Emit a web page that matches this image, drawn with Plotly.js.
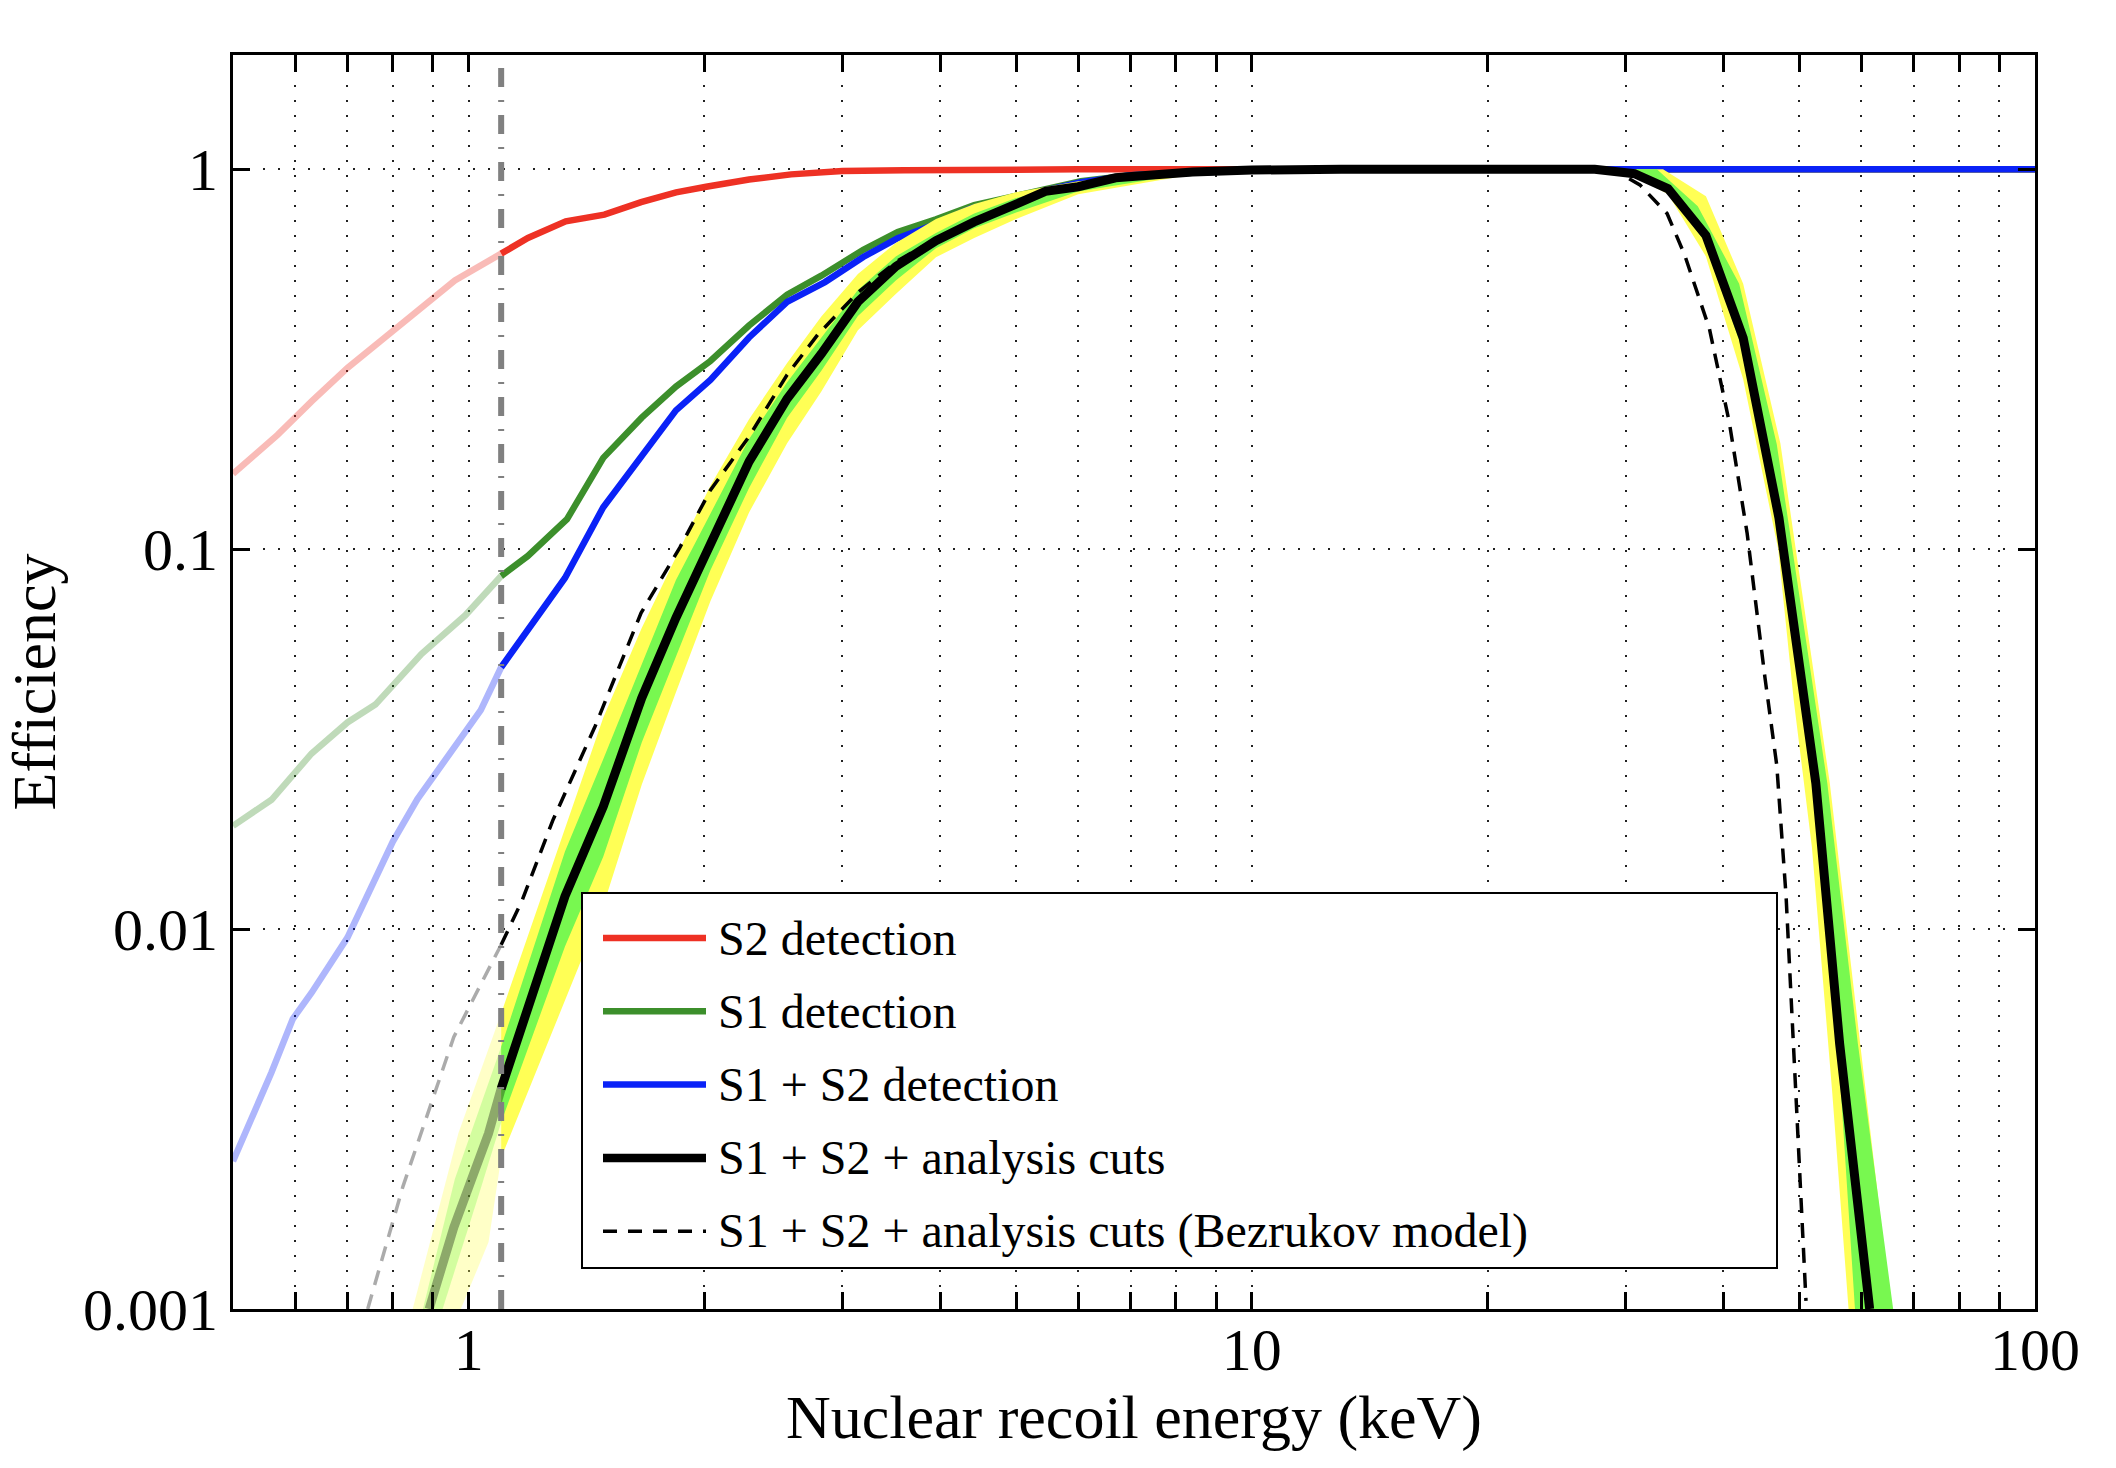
<!DOCTYPE html>
<html>
<head>
<meta charset="utf-8">
<script src="https://cdn.plot.ly/plotly-3.0.1.min.js"></script>
<style>
  html, body { margin: 0; padding: 0; background: #fff; }
  #myDiv { width: 2116px; height: 1468px; }
</style>
</head>
<body>
<div id="myDiv"></div>
<script>
//  ======== DATA ========
// energy threshold (keV), below it every curve is drawn faded
const CUT = 1.1;

const s2E   = [0.5, 0.57, 0.63, 0.70, 0.78, 0.87, 0.96, 1.1, 1.19, 1.33, 1.49, 1.66, 1.84, 2.01, 2.28, 2.58, 3.0, 3.6, 4.5, 6, 10, 30, 100];
const s2Eff = [0.158, 0.20, 0.245, 0.30, 0.36, 0.43, 0.51, 0.60, 0.66, 0.73, 0.76, 0.82, 0.87, 0.90, 0.94, 0.97, 0.99, 0.995, 0.999, 1, 1, 1, 1];

const s1E   = [0.5, 0.56, 0.63, 0.70, 0.76, 0.87, 0.99, 1.1, 1.19, 1.335, 1.485, 1.663, 1.839, 2.035, 2.28, 2.55, 2.82, 3.19, 3.53, 3.95, 4.42, 5.01, 6.05, 7, 8.4, 10, 13, 100];
const s1Eff = [0.0187, 0.0219, 0.029, 0.035, 0.039, 0.053, 0.067, 0.085, 0.096, 0.120, 0.174, 0.222, 0.268, 0.313, 0.388, 0.468, 0.525, 0.614, 0.684, 0.739, 0.805, 0.853, 0.93, 0.965, 0.985, 0.995, 1, 1];

const s12E   = [0.5, 0.56, 0.596, 0.63, 0.70, 0.80, 0.86, 0.97, 1.036, 1.1, 1.186, 1.327, 1.485, 1.663, 1.839, 2.035, 2.28, 2.55, 2.85, 3.19, 3.53, 3.95, 4.38, 5.01, 6.05, 7, 8.4, 10, 13, 100];
const s12Eff = [0.00245, 0.0042, 0.0058, 0.0068, 0.0095, 0.017, 0.022, 0.031, 0.0377, 0.0489, 0.0605, 0.084, 0.129, 0.177, 0.232, 0.279, 0.361, 0.448, 0.505, 0.588, 0.659, 0.718, 0.79, 0.845, 0.925, 0.965, 0.985, 0.995, 1, 1];

const cutsE   = [0.89, 0.957, 1.06, 1.1, 1.327, 1.485, 1.663, 1.839, 2.035, 2.28, 2.55, 2.82, 3.14, 3.51, 3.95, 4.42, 5.0, 5.45, 6.0, 6.7, 8.4, 10, 13, 27.4, 30.8, 34.0, 38.0, 42.4, 47.1, 52.5, 56.3, 61.5];
const cutsEff = [0.001, 0.00164, 0.0029, 0.0038, 0.0122, 0.021, 0.0406, 0.066, 0.104, 0.170, 0.249, 0.327, 0.448, 0.555, 0.649, 0.727, 0.81, 0.875, 0.90, 0.95, 0.984, 0.996, 1, 1, 0.974, 0.889, 0.67, 0.36, 0.121, 0.0242, 0.005, 0.001];

const bezE   = [0.743, 0.824, 0.957, 1.1, 1.17, 1.28, 1.45, 1.66, 1.86, 2.035, 2.28, 2.55, 2.79, 3.14, 3.53, 3.95, 4.42, 5.0, 5.45, 6.0, 6.7, 8.4, 10, 13, 27.5, 29.5, 31.3, 33.9, 35.7, 38.4, 40.7, 42.9, 45.2, 46.8, 48.1, 49.5, 51.0];
const bezEff = [0.001, 0.0021, 0.0052, 0.0091, 0.0119, 0.0193, 0.0342, 0.068, 0.101, 0.143, 0.198, 0.288, 0.367, 0.474, 0.575, 0.655, 0.73, 0.81, 0.875, 0.90, 0.95, 0.984, 0.996, 1, 1, 0.975, 0.91, 0.765, 0.595, 0.38, 0.216, 0.11, 0.046, 0.027, 0.0122, 0.0037, 0.00105];

// 2 sigma (yellow) and 1 sigma (green) bands around the analysis-cuts curve
const yelUpE    = [0.848, 0.97, 1.1, 1.327, 1.485, 1.663, 1.839, 2.035, 2.28, 2.55, 2.82, 3.14, 3.51, 3.95, 4.42, 5.0, 6.0, 8.4, 10, 13, 33.5, 38.0, 42.4, 47.3, 54.7, 65.5];
const yelUpEff  = [0.001, 0.0029, 0.006, 0.0185, 0.036, 0.062, 0.095, 0.147, 0.22, 0.309, 0.41, 0.53, 0.64, 0.74, 0.81, 0.87, 0.93, 0.995, 1, 1, 1, 0.85, 0.50, 0.19, 0.0242, 0.001];
const yelLoE    = [0.977, 1.06, 1.1, 1.327, 1.485, 1.663, 1.839, 2.035, 2.28, 2.55, 2.82, 3.14, 3.51, 3.95, 4.42, 5.0, 6.0, 8.4, 10, 13, 27.4, 30.8, 34.0, 38.0, 42.4, 47.0, 49.2, 51.9, 55.1, 57.8];
const yelLoEff  = [0.001, 0.0015, 0.0025, 0.0065, 0.0115, 0.024, 0.042, 0.073, 0.125, 0.19, 0.26, 0.377, 0.47, 0.587, 0.66, 0.74, 0.86, 0.97, 0.99, 1, 1, 0.96, 0.86, 0.59, 0.28, 0.10, 0.040, 0.0164, 0.0037, 0.001];
const grnUpE    = [0.874, 0.96, 1.1, 1.327, 1.485, 1.663, 1.839, 2.035, 2.28, 2.55, 2.82, 3.14, 3.51, 3.95, 4.42, 5.0, 6.0, 8.4, 10, 13, 32.9, 37.1, 41.9, 46.8, 54.3, 59.4, 65.9];
const grnUpEff  = [0.001, 0.0022, 0.0049, 0.016, 0.028, 0.050, 0.083, 0.124, 0.195, 0.275, 0.36, 0.481, 0.59, 0.68, 0.765, 0.84, 0.915, 0.99, 0.998, 1, 1, 0.80, 0.5, 0.189, 0.0242, 0.005, 0.001];
const grnLoE    = [0.926, 1.03, 1.1, 1.327, 1.485, 1.663, 1.839, 2.035, 2.28, 2.55, 2.82, 3.14, 3.51, 3.95, 4.42, 5.0, 6.0, 8.4, 10, 13, 27.4, 30.8, 34.0, 38.0, 42.4, 47.1, 52.5, 56.3, 58.9];
const grnLoEff  = [0.001, 0.0020, 0.0031, 0.0090, 0.0155, 0.031, 0.052, 0.088, 0.145, 0.222, 0.295, 0.411, 0.51, 0.62, 0.70, 0.77, 0.875, 0.978, 0.994, 1, 1, 0.965, 0.87, 0.64, 0.33, 0.112, 0.021, 0.0042, 0.001];

const legendLabels = ['S2 detection', 'S1 detection', 'S1 + S2 detection', 'S1 + S2 + analysis cuts', 'S1 + S2 + analysis cuts (Bezrukov model)'];

const xTickVals = [0.6, 0.7, 0.8, 0.9, 1, 2, 3, 4, 5, 6, 7, 8, 9, 10, 20, 30, 40, 50, 60, 70, 80, 90, 100];
const yTickVals = [0.001, 0.01, 0.1, 1];
const yTickText = ['0.001', '0.01', '0.1', '1'];

//  ======== STYLE ========
const RED = '#ee3124', GREEN = '#3c8f2b', BLUE = '#0a22f7', YELLOW = '#ffff55', LIME = '#78f850';
const FADE = 0.33;
const FONT = '"Liberation Serif", "Times New Roman", serif';

// keep the points on one side of the threshold (the threshold point goes in both)
function side(xs, ys, faded) {
  var xo = [], yo = [];
  xs.forEach(function(x, i) {
    if (faded ? x <= CUT : x >= CUT) { xo.push(x); yo.push(ys[i]); }
  });
  return [xo, yo];
}

function lineTraces(xs, ys, line) {
  var out = [];
  [true, false].forEach(function(faded) {
    var p = side(xs, ys, faded);
    out.push({ x: p[0], y: p[1], mode: 'lines', type: 'scatter', line: line,
               opacity: faded ? FADE : 1, showlegend: false, hoverinfo: 'skip' });
  });
  return out;
}

function bandTraces(upE, upV, loE, loV, color) {
  var out = [];
  [true, false].forEach(function(faded) {
    var u = side(upE, upV, faded), l = side(loE, loV, faded);
    out.push({ x: u[0].concat(l[0].slice().reverse()), y: u[1].concat(l[1].slice().reverse()),
               mode: 'lines', type: 'scatter', fill: 'toself', fillcolor: color,
               line: { width: 0, color: color }, opacity: faded ? FADE : 1,
               showlegend: false, hoverinfo: 'skip' });
  });
  return out;
}

var data = [].concat(
  lineTraces(s2E, s2Eff, { color: RED, width: 6.5 }),
  lineTraces(s1E, s1Eff, { color: GREEN, width: 6.5 }),
  lineTraces(s12E, s12Eff, { color: BLUE, width: 6.5 }),
  bandTraces(yelUpE, yelUpEff, yelLoE, yelLoEff, YELLOW),
  bandTraces(grnUpE, grnUpEff, grnLoE, grnLoEff, LIME),
  lineTraces(bezE, bezEff, { color: '#000', width: 3.5, dash: '15px,10px' }),
  lineTraces(cutsE, cutsEff, { color: '#000', width: 9 })
);

//  ======== LAYOUT ========
const W = 2116, H = 1468;
const M = { l: 233, r: 81, t: 55, b: 159 };
const PW = W - M.l - M.r, PH = H - M.t - M.b;
const px = v => (v - M.l) / PW;
const py = v => (H - M.b - v) / PH;

// hand-made legend so the sample lines can be as long as in the figure
const legendStyles = [
  { color: RED, width: 6.5 },
  { color: GREEN, width: 6.5 },
  { color: BLUE, width: 6.5 },
  { color: '#000', width: 8.5 },
  { color: '#000', width: 3.5, dash: '14px,11px' }
];

var shapes = [
  { type: 'line', xref: 'x', yref: 'paper', x0: CUT, x1: CUT, y0: 0, y1: 1, layer: 'above',
    line: { color: '#808080', width: 6, dash: '19px,13px,2px,13px' } },
  { type: 'rect', xref: 'paper', yref: 'paper', x0: px(582), x1: px(1777), y0: py(1268), y1: py(893),
    layer: 'above', fillcolor: '#fff', line: { color: '#000', width: 2 } }
];
var annotations = [];
legendLabels.forEach(function(label, i) {
  var yc = 938 + i * 73.3;
  shapes.push({ type: 'line', xref: 'paper', yref: 'paper', x0: px(603), x1: px(706), y0: py(yc), y1: py(yc),
                layer: 'above', line: legendStyles[i] });
  annotations.push({ xref: 'paper', yref: 'paper', x: px(716), y: py(yc), xanchor: 'left', yanchor: 'middle',
                     text: label, showarrow: false, font: { family: FONT, size: 48, color: '#000' } });
});

var layout = {
  width: W, height: H,
  margin: M,
  paper_bgcolor: '#fff', plot_bgcolor: '#fff',
  font: { family: FONT, color: '#000' },
  showlegend: false,
  xaxis: {
    type: 'log',
    range: [Math.log10(0.5), 2],
    tickmode: 'array',
    tickvals: xTickVals,
    ticktext: xTickVals.map(v => (v === 1 || v === 10 || v === 100) ? String(v) : ''),
    ticks: 'inside', ticklen: 17, tickwidth: 3, tickcolor: '#000',
    tickfont: { family: FONT, size: 60, color: '#000' },
    ticklabelstandoff: -14,
    showline: true, linewidth: 3, linecolor: '#000', mirror: 'ticks',
    showgrid: true, gridcolor: '#222', gridwidth: 2, griddash: '2px,13px',
    zeroline: false,
    title: { text: 'Nuclear recoil energy (keV)', font: { family: FONT, size: 62, color: '#000' }, standoff: 0 }
  },
  yaxis: {
    type: 'log',
    range: [-3, Math.log10(2)],
    tickmode: 'array',
    tickvals: yTickVals,
    ticktext: yTickText,
    ticks: 'inside', ticklen: 17, tickwidth: 3, tickcolor: '#000',
    tickfont: { family: FONT, size: 60, color: '#000' },
    ticklabelstandoff: 0,
    showline: true, linewidth: 3, linecolor: '#000', mirror: 'ticks',
    showgrid: true, gridcolor: '#222', gridwidth: 2, griddash: '2px,13px',
    zeroline: false,
    title: { text: 'Efficiency', font: { family: FONT, size: 62, color: '#000' }, standoff: 24 }
  },
  shapes: shapes,
  annotations: annotations
};

Plotly.newPlot('myDiv', data, layout, { staticPlot: true, displayModeBar: false });
</script>
</body>
</html>
